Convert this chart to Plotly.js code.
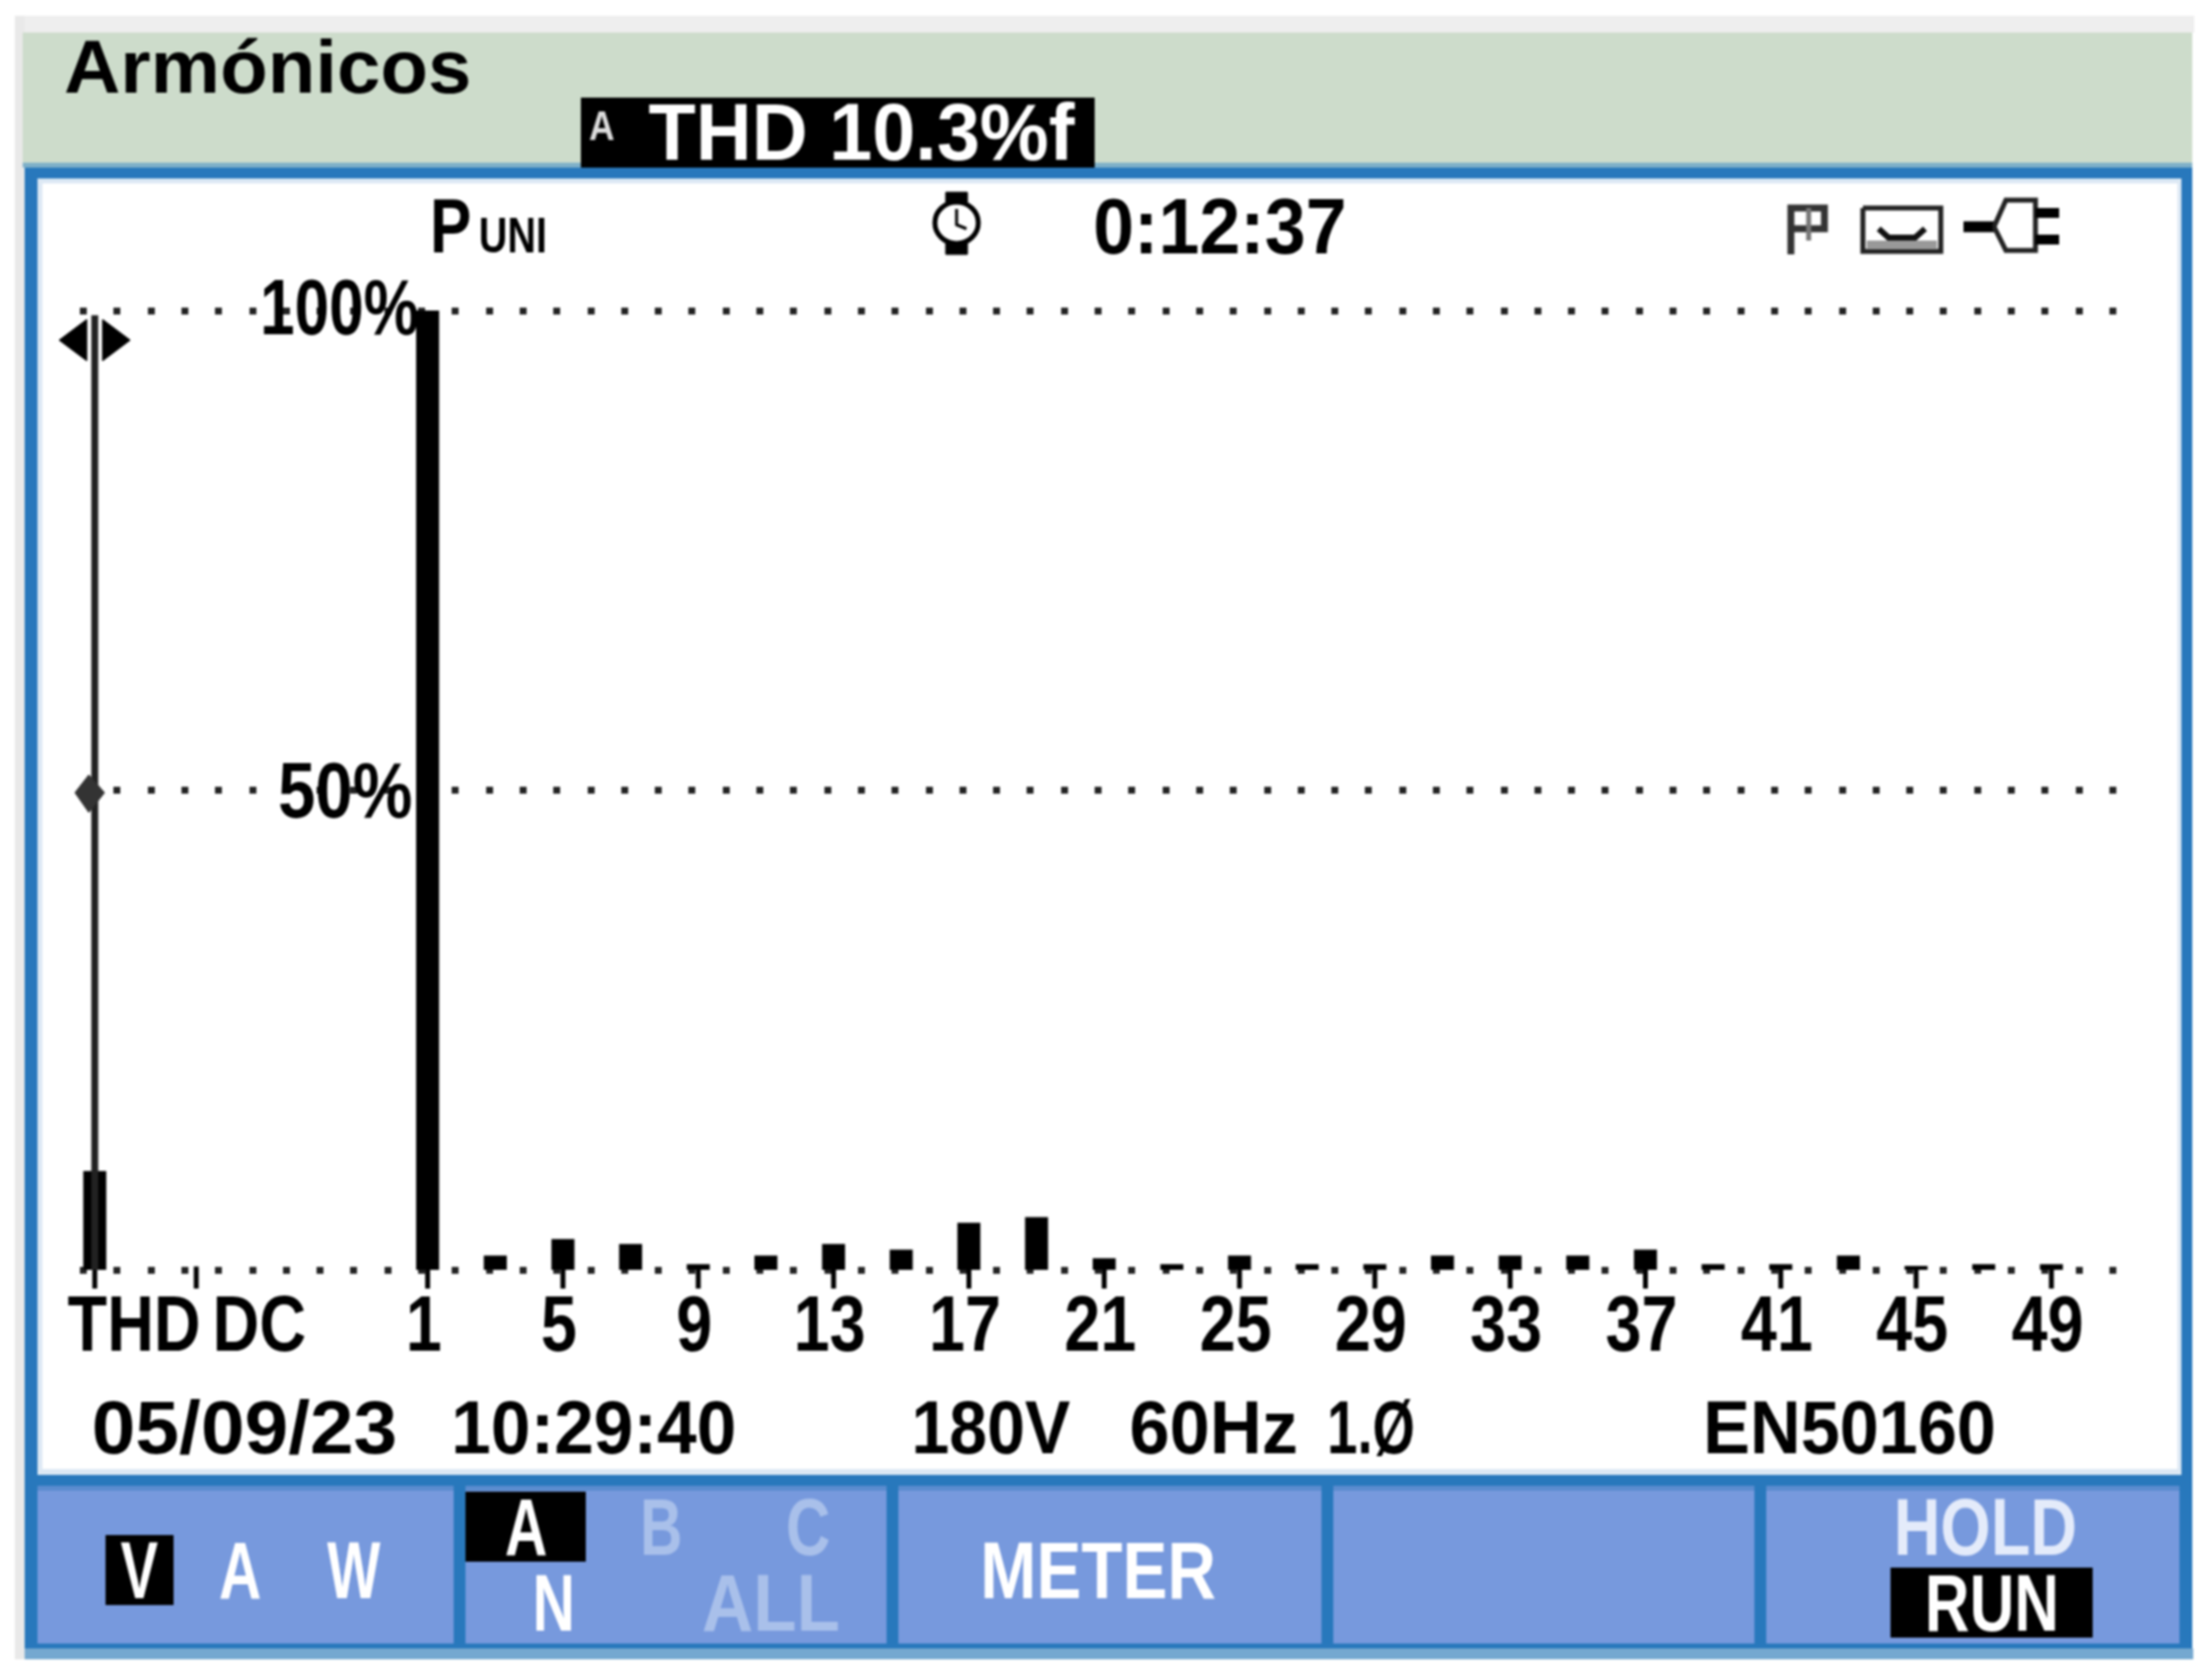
<!DOCTYPE html>
<html>
<head>
<meta charset="utf-8">
<script src="https://cdn.plot.ly/plotly-3.0.1.min.js"></script>
<style>
  html, body { margin: 0; padding: 0; background: white; }
  #chart { width: 2243px; height: 1703px; filter: blur(1.1px); }
</style>
</head>
<body>
<div id="chart"></div>
<script>
const thdPos = -8.84
const dcPos = -5.84

const barX = [thdPos, dcPos, 1, 3, 5, 7, 9, 11, 13, 15, 17, 19, 21, 23, 25, 27, 29, 31, 33, 35, 37, 39, 41, 43, 45, 47, 49]
const barValues = [10.3, 0, 100, 1.5, 3.2, 2.7, 0.6, 1.5, 2.7, 2.1, 4.9, 5.5, 1.2, 0.6, 1.5, 0.6, 0.6, 1.5, 1.5, 1.5, 2.1, 0.6, 0.6, 1.5, 0.4, 0.6, 0.6]

const tickMarkX = [thdPos, dcPos, 1, 5, 9, 13, 17, 21, 25, 29, 33, 37, 41, 45, 49]
const tickLabelX = [-7.56, -3.86, 1, 5, 9, 13, 17, 21, 25, 29, 33, 37, 41, 45, 49]
const tickLabels = ['THD', 'DC', '1', '5', '9', '13', '17', '21', '25', '29', '33', '37', '41', '45', '49']

const W = 2243
const H = 1703
const px = x => x / W
const py = y => 1 - y / H

const FONT = '"Liberation Sans", sans-serif'
const BLUE = '#2878bc'

function rect(x0, y0, x1, y1, color, layer) {
  return {
    type: 'rect', xref: 'paper', yref: 'paper', layer: layer || 'below',
    x0: px(x0), x1: px(x1), y0: py(y0), y1: py(y1),
    fillcolor: color, line: { width: 0 }
  }
}

// polyline given in page pixels
function poly(points, color, width, fill) {
  let d = points.map((p, i) => (i ? 'L' : 'M') + px(p[0]) + ',' + py(p[1])).join(' ')
  if (fill) d += ' Z'
  return {
    type: 'path', xref: 'paper', yref: 'paper', layer: 'above', path: d,
    line: { color: color, width: width },
    fillcolor: fill ? color : 'rgba(0,0,0,0)'
  }
}

// textWidth is what the text gets squeezed to once it is drawn
const textWidths = []
function label(text, x, y, size, textWidth, color) {
  textWidths.push(textWidth)
  return {
    xref: 'paper', yref: 'paper', x: px(x), y: py(y),
    xanchor: 'center', yanchor: 'middle', showarrow: false,
    text: text,
    font: { family: FONT, size: size, color: color || 'black', weight: 700 },
    borderpad: 0
  }
}

const shapes = [
  // outer case
  rect(15, 16, 2225, 33, '#eeeeee'),
  rect(15, 16, 25, 1683, '#e9e9e9'),
  rect(23, 33, 2223, 165, '#cddccb'),
  rect(23, 165, 2223, 170, '#7fb0c8'),
  rect(25, 170, 2223, 1672, BLUE),
  rect(25, 1672, 2224, 1683, '#75a8d0'),
  // screen
  rect(38, 181, 2212, 1496, '#dce8f4'),
  rect(43, 186, 2208, 1490, 'white'),
  // gaps in the dotted lines behind the percent labels
  rect(262, 295, 422, 335, 'white', 'between'),
  rect(262, 785, 422, 825, 'white', 'between'),
  // softkeys
  rect(38, 1507, 2210, 1667, '#5a8ccf'),
  rect(38, 1512, 460, 1667, '#7799dd'),
  rect(472, 1512, 899, 1667, '#7799dd'),
  rect(911, 1512, 1340, 1667, '#7799dd'),
  rect(1352, 1512, 1779, 1667, '#7799dd'),
  rect(1791, 1512, 2210, 1667, '#7799dd'),
  rect(460, 1507, 472, 1672, BLUE),
  rect(899, 1507, 911, 1672, BLUE),
  rect(1340, 1507, 1352, 1672, BLUE),
  rect(1779, 1507, 1791, 1672, BLUE),
  // highlighted labels
  rect(589, 99, 1110, 170, 'black'),
  rect(107, 1557, 176, 1628, 'black'),
  rect(472, 1513, 594, 1584, 'black'),
  rect(1917, 1590, 2122, 1661, 'black'),
  // cursor arrows
  poly([[88, 324], [88, 366], [60, 345]], 'black', 1, true),
  poly([[104, 324], [104, 366], [132, 345]], 'black', 1, true),
  poly([[90, 786], [106, 804], [90, 824], [76, 804]], '#333333', 1, true),
  // clock icon
  {
    type: 'circle', xref: 'paper', yref: 'paper', layer: 'above',
    x0: px(948), x1: px(992), y0: py(205), y1: py(247),
    line: { color: 'black', width: 5 }, fillcolor: 'white'
  },
  poly([[959, 195], [981, 195], [981, 205], [959, 205]], 'black', 1, true),
  poly([[959, 247], [981, 247], [981, 258], [959, 258]], 'black', 1, true),
  poly([[970, 212], [970, 228], [980, 232]], 'black', 3),
  // flag icon
  poly([[1816, 258], [1816, 211], [1850, 211], [1850, 232], [1816, 232]], '#333333', 7),
  poly([[1834, 211], [1834, 244]], '#777777', 5),
  // tape icon
  poly([[1889, 211], [1968, 211], [1968, 255], [1889, 255], [1889, 211]], '#222222', 5),
  poly([[1905, 232], [1915, 241], [1942, 241], [1952, 232]], '#111111', 6),
  poly([[1893, 248], [1964, 248]], '#999999', 8),
  // plug icon
  poly([[1991, 230], [2022, 230]], 'black', 11),
  poly([[2022, 230], [2034, 203], [2064, 203], [2064, 254], [2034, 254], [2022, 230]], '#222222', 5),
  poly([[2064, 216], [2088, 216]], 'black', 10),
  poly([[2064, 243], [2088, 243]], 'black', 10)
]

const annotations = [
  label('Armónicos', 271, 67, 76, 413),
  label('A', 610, 127, 42, 26, '#dddddd'),
  label('THD 10.3%f', 874, 133, 82, 432, 'white'),
  label('P', 457, 229, 78, 42),
  label('UNI', 520, 239, 50, 69),
  label('0:12:37', 1237, 229, 80, 257),
  label('100%', 344, 311, 80, 161),
  label('50%', 350, 802, 80, 136),
  label('05/09/23', 248, 1447, 76, 310),
  label('10:29:40', 602, 1447, 76, 289),
  label('180V', 1005, 1447, 76, 161),
  label('60Hz', 1230, 1447, 76, 171),
  label('1.Ø', 1390, 1447, 76, 89),
  label('EN50160', 1875, 1447, 76, 297),
  label('V', 141, 1592, 82, 38, 'white'),
  label('A', 243, 1592, 82, 43, 'white'),
  label('W', 359, 1592, 82, 54, 'white'),
  label('A', 533, 1548, 82, 43, 'white'),
  label('B', 670, 1548, 82, 43, '#a9c0ea'),
  label('C', 820, 1548, 82, 45, '#a9c0ea'),
  label('N', 561, 1625, 82, 43, 'white'),
  label('ALL', 781, 1625, 82, 140, '#a9c0ea'),
  label('METER', 1113, 1592, 82, 239, 'white'),
  label('HOLD', 2013, 1548, 82, 186, '#e4ebfa'),
  label('RUN', 2020, 1625, 82, 136, 'white')
]

const bars = {
  type: 'bar', x: barX, y: barValues, width: 0.68,
  marker: { color: 'black', line: { width: 0 } }, hoverinfo: 'skip'
}
const tickMarks = {
  type: 'scatter', mode: 'markers', x: tickMarkX, y: tickMarkX.map(() => -0.8),
  marker: { symbol: 'line-ns', size: 16, line: { color: 'black', width: 5 } },
  cliponaxis: false, hoverinfo: 'skip'
}
const cursorLine = {
  type: 'scatter', mode: 'lines', x: [thdPos, thdPos], y: [99.5, 0],
  line: { color: '#222222', width: 7 }, hoverinfo: 'skip'
}

const layout = {
  width: W,
  height: H,
  margin: { l: 0, r: 0, t: 0, b: 0 },
  paper_bgcolor: 'white',
  plot_bgcolor: 'rgba(0,0,0,0)',
  showlegend: false,
  shapes: shapes,
  annotations: annotations,
  xaxis: {
    domain: [px(81), px(2146)],
    range: [-9.28, 50.92],
    showgrid: false,
    zeroline: false,
    showline: false,
    ticks: '',
    tickmode: 'array',
    tickvals: tickLabelX,
    ticktext: tickLabels,
    tickangle: 0,
    ticklabelshift: -4,
    ticklabelstandoff: -18,
    tickfont: { family: FONT, size: 80, color: 'black', weight: 700 }
  },
  yaxis: {
    domain: [py(1307.46), py(305.27)],
    range: [-2, 101],
    zeroline: false,
    showline: false,
    ticks: '',
    tickmode: 'array',
    tickvals: [0, 50, 100],
    showticklabels: false,
    showgrid: true,
    gridcolor: '#222222',
    gridwidth: 7,
    griddash: '7px,27.3px'
  }
}

// no narrow font here, so squeeze the text to the instrument's widths
function squeezeText() {
  document.querySelectorAll('.annotation-text').forEach((el, i) => {
    el.setAttribute('lengthAdjust', 'spacingAndGlyphs')
    el.setAttribute('textLength', textWidths[i])
  })
  document.querySelectorAll('.xtick text').forEach(el => {
    el.setAttribute('lengthAdjust', 'spacingAndGlyphs')
    el.setAttribute('textLength', el.getComputedTextLength() * 0.82)
  })
}

Plotly.newPlot('chart', [bars, tickMarks, cursorLine], layout, { displayModeBar: false }).then(squeezeText)
</script>
</body>
</html>
